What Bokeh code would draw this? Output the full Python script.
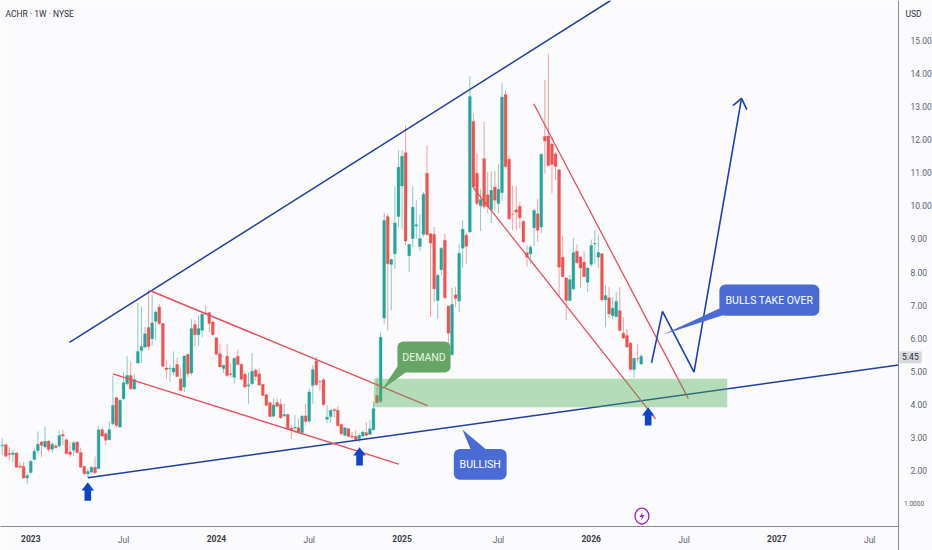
from bokeh.plotting import figure
from bokeh.embed import file_html
from bokeh.resources import INLINE
from bokeh.models import Label, BoxAnnotation, FixedTicker, ColumnDataSource, LinearAxis
import numpy as np

opens = [2.74,2.78,2.51,2.48,2.53,2.13,2.12,1.77,1.94,2.33,
2.60,2.86,2.71,2.89,2.64,2.74,2.74,3.09,2.93,2.56,
2.61,2.86,2.54,2.12,1.90,1.95,2.10,2.05,3.23,3.11,
2.93,3.41,4.20,3.31,4.17,4.62,4.87,4.46,5.25,5.63,
5.73,6.32,5.98,6.51,6.94,6.44,5.10,5.07,4.98,5.20,
4.77,4.52,5.51,4.95,6.41,6.10,6.24,6.76,6.77,6.49,
6.01,5.53,5.08,5.45,4.92,4.82,5.45,5.21,4.91,4.56,
4.62,5.03,4.92,4.60,4.29,4.05,3.64,4.05,4.00,3.65,
3.69,3.28,3.28,3.29,3.14,3.65,3.49,4.57,5.31,4.70,
4.74,3.55,3.63,3.84,3.82,3.39,3.06,3.26,3.04,3.03,
2.96,3.04,3.14,3.09,3.23,4.27,4.09,6.61,9.68,8.23,
8.55,9.68,10.60,11.61,8.49,9.01,9.39,8.77,9.14,10.99,
9.16,9.14,7.14,8.07,8.96,6.97,5.50,7.31,7.12,8.72,
9.11,9.21,12.55,10.99,10.00,11.43,10.34,9.88,10.57,10.07,
10.40,13.37,11.41,9.74,9.88,9.99,9.53,8.58,8.55,9.34,
9.76,9.36,12.10,12.11,11.87,11.57,11.09,8.45,7.82,7.14,
7.49,8.63,8.45,8.30,7.69,8.23,8.85,8.45,8.55,7.16,
7.22,6.68,6.65,6.83,6.15,6.08,5.85,5.05,5.38,5.22]

highs = [2.98,2.81,2.71,2.63,2.55,2.25,2.25,1.90,2.30,2.66,
3.18,2.89,3.33,2.91,2.86,2.81,3.21,3.23,2.96,2.86,
2.89,2.88,2.69,2.15,2.05,2.12,2.42,3.36,3.31,3.16,
3.49,4.87,4.24,4.17,4.97,5.45,5.28,4.92,7.07,6.94,
6.34,7.45,7.31,6.84,7.04,6.46,5.33,5.18,5.60,5.41,
5.08,5.48,5.53,6.57,6.54,6.69,6.79,6.99,6.79,6.54,
6.03,5.81,5.20,5.81,5.23,5.41,5.65,5.23,4.95,4.97,
5.55,5.08,5.08,4.62,4.32,4.07,4.17,4.17,4.17,4.02,
3.71,3.36,3.68,3.56,3.68,4.00,4.47,5.18,5.43,4.72,
4.79,3.97,3.84,3.87,3.94,3.41,3.31,3.28,3.16,3.21,
3.11,3.21,3.46,3.51,4.07,4.82,6.20,9.78,9.76,8.40,
10.59,11.68,11.68,12.43,8.86,10.59,10.17,9.74,10.42,11.83,
9.18,9.36,7.95,8.75,9.16,6.99,7.52,7.55,8.84,9.58,
9.18,13.92,12.79,11.58,10.52,12.54,11.02,11.04,11.05,11.27,
13.71,13.49,11.53,10.62,10.59,10.12,9.56,8.81,8.81,9.91,
10.22,11.58,13.81,14.60,11.90,11.62,11.12,9.10,7.84,7.91,
9.03,8.83,8.47,8.63,8.15,8.98,9.27,9.13,8.57,7.59,
7.54,7.24,7.39,7.54,6.63,6.28,5.88,5.42,5.81,5.52]

lows = [2.46,2.40,2.30,2.25,2.08,2.03,1.75,1.60,1.88,2.30,
2.51,2.40,2.66,2.56,2.54,2.66,2.71,2.76,2.49,2.40,
2.43,2.51,2.08,1.88,1.78,1.92,1.90,2.05,3.01,2.76,
2.91,3.36,3.31,3.29,4.12,4.57,4.44,4.44,5.23,5.25,
5.68,5.63,5.78,5.93,6.39,5.13,4.77,4.67,4.87,4.82,
4.40,4.37,4.82,4.87,5.75,5.75,6.03,6.69,6.18,6.08,
5.48,5.11,4.95,4.82,4.82,4.62,5.18,4.72,4.50,4.02,
4.59,4.72,4.57,4.24,3.95,3.61,3.61,3.92,3.56,3.61,
3.23,2.96,3.13,3.11,3.11,3.36,3.43,4.02,4.57,4.42,
3.92,3.43,3.43,3.61,3.33,3.06,3.03,3.01,2.93,2.91,
2.86,3.01,3.04,3.07,3.21,4.02,4.04,6.44,6.23,6.84,
8.10,9.36,9.31,8.81,8.00,8.75,9.01,8.63,9.06,9.11,
6.64,7.09,6.59,7.90,7.18,5.83,5.48,6.94,6.79,8.13,
8.23,9.18,10.52,10.01,9.24,9.91,9.78,9.48,9.86,9.78,
10.15,11.12,9.56,9.26,9.26,9.31,8.88,8.17,8.25,8.77,
8.91,9.18,10.97,11.19,10.38,10.77,7.24,7.84,6.55,7.12,
7.46,8.25,7.52,7.84,7.39,8.15,8.25,8.12,7.09,6.33,
6.61,6.58,6.63,6.21,5.98,5.71,5.04,4.80,5.27,5.20]

closes = [2.76,2.43,2.48,2.53,2.10,2.10,1.77,1.85,2.28,2.58,
2.79,2.76,2.88,2.63,2.79,2.69,3.06,3.04,2.51,2.48,
2.84,2.54,2.10,1.90,1.97,2.10,1.93,3.23,3.04,2.91,
3.23,3.97,3.36,4.12,4.65,4.87,4.47,4.75,5.60,5.75,
6.13,5.75,6.46,6.79,6.44,5.15,5.05,5.08,5.10,4.84,
4.42,5.46,4.92,6.29,6.10,6.29,6.72,6.74,6.44,6.10,
5.51,5.13,5.18,4.87,4.90,5.39,5.20,4.76,4.52,4.59,
5.00,4.84,4.58,4.27,3.97,3.63,3.98,3.94,3.59,3.69,
3.26,3.21,3.31,3.16,3.64,3.48,4.37,5.05,4.59,4.69,
3.99,3.61,3.82,3.81,3.35,3.11,3.29,3.03,3.01,2.93,
3.06,3.16,3.06,3.26,3.87,4.05,6.03,9.56,8.25,8.38,
9.48,11.17,11.50,8.94,8.83,9.96,9.43,9.01,10.35,9.13,
8.88,7.49,7.90,8.72,7.22,6.15,7.02,7.20,8.57,9.29,
8.78,13.31,10.57,10.07,10.19,9.98,9.98,10.47,10.17,10.50,
13.29,11.19,9.61,9.73,9.81,9.64,8.91,8.45,8.75,9.86,
9.26,11.56,11.96,11.22,11.25,11.19,8.15,7.86,7.14,7.77,
8.58,8.28,8.12,7.86,8.12,8.80,8.86,8.59,7.16,7.29,
6.73,6.91,7.11,6.23,6.00,5.73,5.05,5.39,5.37,5.45]

year_ticks = [8, 60, 112, 165, 217]
year_labels = ["2023", "2024", "2025", "2026", "2027"]
month_ticks = [34, 86, 139, 191, 243]
month_labels = ["Jul", "Jul", "Jul", "Jul", "Jul"]
price_ticks = list(range(2, 16))
price_labels = [f"{v}.00" for v in price_ticks]

FONT = "Roboto"
BG = "#fbfbfe"
GREEN, RED = "#26a69a", "#ef5350"
NAVY, REDLINE = "#1f3f9e", "#e2505f"
BLUE_BOX, GREEN_BOX = "#4a6bd6", "#66a566"
LAST_WEEK_EDGE, AXIS_PRICE = 251.06, 0.305

p = figure(width=962, height=600, frame_width=932, frame_height=550,
           output_backend="svg", toolbar_location=None, y_axis_location="right",
           x_range=(-0.48, 260.6), y_range=(-0.421, 16.21),
           background_fill_color=BG, border_fill_color=BG,
           min_border_left=0, min_border_top=0, min_border_right=0, min_border_bottom=0)
p.grid.visible = False
p.outline_line_color = None

year_axis = LinearAxis()
p.add_layout(year_axis, "below")
for ax in (p.xaxis[0], p.xaxis[1], p.yaxis[0]):
    ax.major_tick_line_color = None
    ax.minor_tick_line_color = None
    ax.axis_line_color = "#85888e"
    ax.axis_line_width = 1
    ax.major_label_text_font = FONT
    ax.major_label_text_font_size = "8.5px"
    ax.major_label_text_color = "#5d606b"
for ax, ticks, labels in ((p.xaxis[0], month_ticks, month_labels), (p.xaxis[1], year_ticks, year_labels)):
    ax.ticker = FixedTicker(ticks=ticks)
    ax.major_label_overrides = dict(zip(ticks, labels))
    ax.major_label_standoff = 3
    ax.fixed_location = AXIS_PRICE
    ax.bounds = (-0.48, LAST_WEEK_EDGE)
p.xaxis[1].major_label_text_color = "#363a45"
p.xaxis[1].major_label_text_font_style = "bold"
p.yaxis[0].ticker = FixedTicker(ticks=price_ticks)
p.yaxis[0].major_label_overrides = dict(zip(price_ticks, price_labels))
p.yaxis[0].major_label_standoff = 6
p.yaxis[0].fixed_location = LAST_WEEK_EDGE

o, h, l, c = map(np.array, (opens, highs, lows, closes))
xs = np.arange(len(o))
col = np.where(c >= o, GREEN, RED)
src = ColumnDataSource(dict(x=xs, o=o, h=h, l=l, c=c, col=col,
                            top=np.maximum(o, c), bot=np.minimum(o, c)))
p.segment("x", "h", "x", "l", source=src, color="col", line_width=1, line_alpha=0.55)
p.vbar("x", 0.8, "bot", "top", source=src, fill_color="col", line_color="col", line_width=0.3)

# Hand-drawn trend lines (week, price)
p.line([18.85, 170.4], [5.87, 16.21], color=NAVY, line_width=1.5)
p.line([23.98, 251.06], [1.78, 5.19], color=NAVY, line_width=1.5)
p.line([41.34, 119.1], [7.44, 3.96], color=REDLINE, line_width=1.5)
p.line([30.98, 111.1], [4.92, 2.19], color=REDLINE, line_width=1.5)
p.line([131.9, 183.0], [10.56, 3.56], color=REDLINE, line_width=1.3)
p.line([148.9, 192.2], [13.09, 4.17], color=REDLINE, line_width=1.3)

# Demand zone
p.quad(left=104.1, right=203.1, bottom=3.91, top=4.77, fill_color="#4caf50", fill_alpha=0.4, line_color=None)

# Projected path
p.line([181.9, 184.96, 193.8, 207.1], [5.25, 6.81, 4.97, 13.25], color="#1c40b4", line_width=1.6)
p.line([204.7, 207.1, 208.6], [13.03, 13.25, 12.91], color="#1c40b4", line_width=1.6)

# Support arrows
for wk, tip in [(23.98, 1.64), (100.1, 2.70), (180.95, 3.91)]:
    p.patch([wk, wk + 1.74, wk + 0.93, wk + 0.93, wk - 0.93, wk - 0.93, wk - 1.74],
            [tip, tip - 0.25, tip - 0.25, tip - 0.553, tip - 0.553, tip - 0.25, tip - 0.25],
            fill_color="#1045c8", line_color=None)

# Callouts
callouts = [
    ("DEMAND", GREEN_BOX, 110.7, 125.6, 4.96, 5.90, [106.4, 110.7, 113.0], [4.45, 5.14, 4.96]),
    ("BULLISH", BLUE_BOX, 126.5, 141.3, 1.72, 2.65, [128.9, 131.2, 135.4], [3.24, 2.65, 2.65]),
    ("BULLS TAKE OVER", BLUE_BOX, 200.9, 228.9, 6.68, 7.62, [185.2, 200.9, 202.1], [6.11, 6.90, 6.70]),
]
for text, colr, x0, x1, y0, y1, tx, ty in callouts:
    p.patch(tx, ty, fill_color=colr, line_color=None)
    p.add_layout(BoxAnnotation(left=x0, right=x1, bottom=y0, top=y1, fill_color=colr, fill_alpha=1,
                               line_color=None, border_radius=6))
    p.add_layout(Label(x=(x0 + x1) / 2, y=(y0 + y1) / 2, text=text, text_align="center",
                       text_baseline="middle", text_color="#ffffff" if colr == BLUE_BOX else "#eaf6e4",
                       text_font=FONT, text_font_size="10.5px"))

# Event icon
p.ellipse([179.2], [0.62], width=3.9, height=0.48, fill_color=None, line_color="#9c27b0", line_width=1.3)
p.patch(179.2 + np.array([0.35, -0.7, 0.0, -0.3, 0.7, 0.0]),
        0.62 + np.array([0.13, -0.03, -0.03, -0.15, 0.03, 0.03]),
        fill_color="#9c27b0", line_color=None)

# Header, bottom price label and price tag
p.add_layout(Label(x=0.92, y=15.79, text="ACHR · 1W · NYSE", text_font=FONT,
                   text_font_size="8.5px", text_color="#2a2e39", text_baseline="middle", text_align="left"))
p.add_layout(Label(x=255.3, y=15.79, text="USD", text_font=FONT, text_font_size="8.5px",
                   text_color="#2a2e39", text_baseline="middle", text_align="center"))
p.add_layout(Label(x=252.6, y=1.0, text="1.0000", text_font=FONT, text_font_size="6.6px",
                   text_color="#5d606b", text_baseline="middle", text_align="left"))
p.add_layout(BoxAnnotation(left=251.3, right=257.6, bottom=5.24, top=5.60, fill_color="#d8d9dd", fill_alpha=1,
                           line_color=None))
p.add_layout(Label(x=254.4, y=5.45, text="5.45", text_font=FONT, text_font_size="8.5px",
                   text_color="#2a2e39", text_baseline="middle", text_align="center"))

open("out.html", "w").write(file_html(p, INLINE))
